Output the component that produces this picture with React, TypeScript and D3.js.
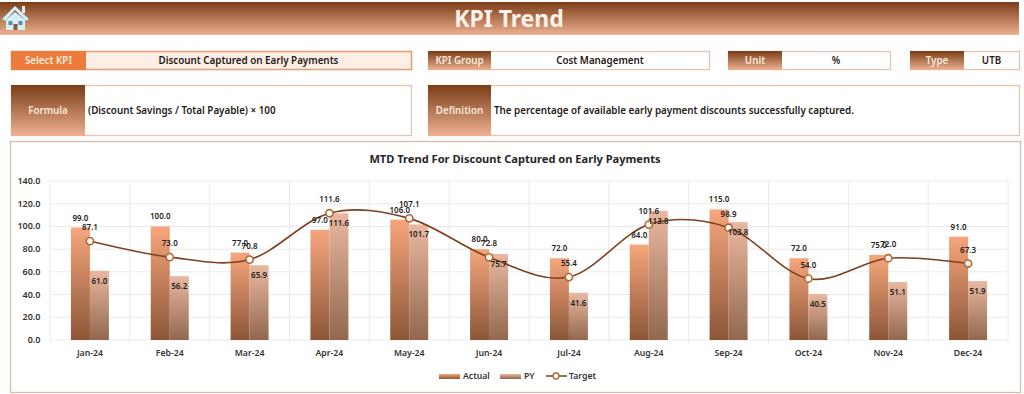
import React from "react";
import * as d3 from "d3";

const months = ["Jan-24","Feb-24","Mar-24","Apr-24","May-24","Jun-24","Jul-24","Aug-24","Sep-24","Oct-24","Nov-24","Dec-24"];
const actual = [99,100,77,97,106,80,72,84,115,72,75,91];
const py = [61,56.2,65.9,111.6,101.7,75.7,41.6,113.8,103.8,40.5,51.1,51.9];
const target = [87.1,73,70.8,111.6,107.1,72.8,55.4,101.6,98.9,54,72,67.3];
const yTicks = [0,20,40,60,80,100,120,140];

const FONT = "'Noto Sans', sans-serif";
const W = 1024, H = 394;
const plot = { l: 50, r: 1008, t: 181, b: 340 };
const x = d3.scaleBand<string>().domain(months).range([plot.l, plot.r]);
const y = d3.scaleLinear().domain([0, 140]).range([plot.b, plot.t]);
const barW = 19;
const cx = (m: string) => (x(m) as number) + x.bandwidth() / 2;
const targetLine = d3.line<number>().x((_, i) => cx(months[i])).y(d => y(d)).curve(d3.curveCardinal.tension(0));

type P = { x: number; y: number; w: number; h: number; lw: number; label: string; value: string; solid?: boolean; left?: boolean; fill?: string };
const panels: P[] = [
  { x: 11, y: 51, w: 400, h: 18, lw: 75, label: "Select KPI", value: "Discount Captured on Early Payments", solid: true, fill: "#fdeee6" },
  { x: 428, y: 51, w: 281, h: 18, lw: 63, label: "KPI Group", value: "Cost Management" },
  { x: 728, y: 51, w: 162, h: 18, lw: 54, label: "Unit", value: "%" },
  { x: 910, y: 51, w: 109, h: 18, lw: 54, label: "Type", value: "UTB" },
  { x: 11, y: 85, w: 400, h: 50, lw: 74, label: "Formula", value: "(Discount Savings / Total Payable) × 100", left: true },
  { x: 428, y: 85, w: 591, h: 50, lw: 63, label: "Definition", value: "The percentage of available early payment discounts successfully captured.", left: true },
];

export default function App() {
  return (
    <svg width={W} height={H} viewBox={`0 0 ${W} ${H}`} style={{ position: "absolute", left: 0, top: 0, background: "#fff", fontFamily: FONT }}>
      <defs>
        <linearGradient id="hdr" x1="0" y1="0" x2="0" y2="1">
          <stop offset="0" stopColor="#7a3d17" />
          <stop offset="1" stopColor="#eeb192" />
        </linearGradient>
        <linearGradient id="act" x1="0" y1="0" x2="0" y2="1">
          <stop offset="0" stopColor="#f6a67c" />
          <stop offset="1" stopColor="#8b5637" />
        </linearGradient>
        <linearGradient id="pyg" x1="0" y1="0" x2="0" y2="1">
          <stop offset="0" stopColor="#eab8a0" />
          <stop offset="1" stopColor="#91684f" />
        </linearGradient>
      </defs>

      <rect x={0} y={2} width={1019} height={33} fill="url(#hdr)" />
      <text x={509} y={27} textAnchor="middle" fontSize={23} fontWeight={700} fill="#fdf1ea">KPI Trend</text>
      <g>
        <path d="M2 19 L15 6 L29 19 L26 21 L15 10 L5 21 Z" fill="#d6eef5" stroke="#8fb3bd" strokeWidth={0.6} />
        <rect x={22} y={6} width={3} height={7} fill="#d6eef5" />
        <path d="M6 20 L15 12 L25 20 L25 30 L6 30 Z" fill="#d6eef5" />
        <rect x={8.5} y={21} width={4} height={4} fill="#5f8d9c" />
        <rect x={18.5} y={21} width={4} height={4} fill="#5f8d9c" />
        <rect x={13.5} y={24} width={4} height={6} fill="#8a5a3c" />
      </g>

      {panels.map(p => (
        <g key={p.label}>
          <rect x={p.x + 0.5} y={p.y + 0.5} width={p.w} height={p.h} fill={p.fill ?? "#fff"} stroke={p.solid ? "#e3a27c" : "#e8c4b0"} strokeWidth={p.solid ? 1.6 : 1.3} />
          <rect x={p.x} y={p.y} width={p.lw} height={p.h + 1} fill={p.solid ? "#ec7c3b" : "url(#hdr)"} />
          <text x={p.x + p.lw / 2} y={p.y + p.h / 2 + 4} textAnchor="middle" fontSize={9.8} fontWeight={600} fill="#fbe9de">{p.label}</text>
          <text
            x={p.left ? p.x + p.lw + 3 : p.x + p.lw + (p.w - p.lw) / 2}
            y={p.y + p.h / 2 + 4}
            textAnchor={p.left ? "start" : "middle"}
            fontSize={9.8}
            fontWeight={600}
            fill="#1f1a17"
          >{p.value}</text>
        </g>
      ))}

      <rect x={10.5} y={141.5} width={1010} height={251} fill="#fff" stroke="#d8bcaa" strokeWidth={1.3} />
      <text x={515} y={163} textAnchor="middle" fontSize={11.1} fontWeight={700} fill="#262626">MTD Trend For Discount Captured on Early Payments</text>

      {yTicks.map(t => (
        <g key={t}>
          <line x1={plot.l} x2={plot.r} y1={y(t)} y2={y(t)} stroke="#eceae8" strokeWidth={1} />
          <text x={40.5} y={y(t) + 3} textAnchor="end" fontSize={9} fontWeight={600} fill="#333">{t.toFixed(1)}</text>
        </g>
      ))}
      {months.map(m => (
        <line key={m} x1={x(m)} x2={x(m)} y1={plot.t} y2={plot.b + 3} stroke="#eceae8" strokeWidth={1} />
      ))}
      <line x1={plot.r} x2={plot.r} y1={plot.t} y2={plot.b + 3} stroke="#eceae8" strokeWidth={1} />

      {months.map((m, i) => (
        <g key={m}>
          <rect x={cx(m) - barW} y={y(actual[i])} width={barW} height={y(0) - y(actual[i])} fill="url(#act)" />
          <rect x={cx(m)} y={y(py[i])} width={barW} height={y(0) - y(py[i])} fill="url(#pyg)" />
          <text x={cx(m)} y={356} textAnchor="middle" fontSize={8.7} fontWeight={600} fill="#333">{m}</text>
        </g>
      ))}

      <path d={targetLine(target) as string} fill="none" stroke="#7d4020" strokeWidth={1.6} />
      {months.map((m, i) => (
        <circle key={m} cx={cx(m)} cy={y(target[i])} r={3.6} fill="#fff" stroke="#b5652f" strokeWidth={1.6} />
      ))}

      {months.map((m, i) => (
        <g key={m} fontSize={8} fontWeight={600} fill="#222" textAnchor="middle">
          <text x={cx(m) - barW / 2} y={y(actual[i]) - 7}>{actual[i].toFixed(1)}</text>
          <text x={cx(m) + barW / 2} y={y(py[i]) + 13}>{py[i].toFixed(1)}</text>
          <text x={cx(m)} y={y(target[i]) - 11}>{target[i].toFixed(1)}</text>
        </g>
      ))}

      <g fontSize={8.7} fontWeight={600} fill="#333">
        <rect x={439} y={374} width={21} height={5} fill="url(#act)" />
        <text x={463} y={379}>Actual</text>
        <rect x={500} y={374} width={21} height={5} fill="url(#pyg)" />
        <text x={524} y={379}>PY</text>
        <line x1={546} x2={567} y1={376} y2={376} stroke="#7d4020" strokeWidth={1.5} />
        <circle cx={556} cy={376} r={3} fill="#fff" stroke="#b5652f" strokeWidth={1.3} />
        <text x={569} y={379}>Target</text>
      </g>
    </svg>
  );
}
